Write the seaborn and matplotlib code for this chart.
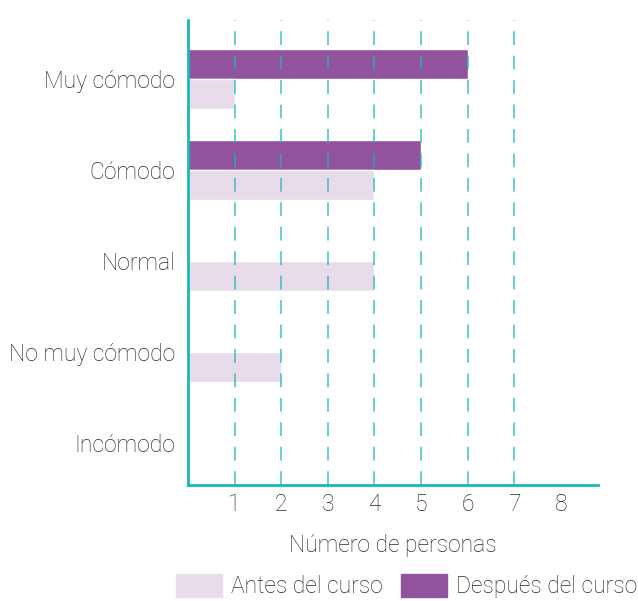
import matplotlib
matplotlib.use("Agg")
import matplotlib.pyplot as plt
import matplotlib.patches as mpatches
import seaborn as sns
import pandas as pd

categories = ["Muy cómodo", "Cómodo", "Normal", "No muy cómodo", "Incómodo"]
antes = [1, 4, 4, 2, 0]
despues = [6, 5, 0, 0, 0]
series_names = ["Antes del curso", "Después del curso"]
x_ticks = [1, 2, 3, 4, 5, 6, 7, 8]

teal = "#1BB8BA"
c_antes = "#E8DBEA"
c_despues = "#91539D"
txt = "#2a2a2a"

sns.set_theme(style="white")
plt.rcParams["font.family"] = ["Roboto", "DejaVu Sans"]
FS = 16.5

df = pd.DataFrame({
    "cat": categories * 2,
    "val": antes + despues,
    "serie": [series_names[0]] * len(categories) + [series_names[1]] * len(categories),
})

fig = plt.figure(figsize=(6.38, 6.01), dpi=100)
ax = fig.add_axes([188 / 638, 1 - 485 / 601, 410 / 638, 465 / 601])

sns.barplot(data=df, y="cat", x="val", hue="serie", order=categories,
            hue_order=[series_names[1], series_names[0]],
            palette={series_names[0]: c_antes, series_names[1]: c_despues},
            orient="h", width=0.66, ax=ax, legend=False, saturation=1)

for v in x_ticks[:-1]:
    ax.axvline(v, color=teal, lw=1.1, ls=(0, (9, 7)), zorder=5, alpha=0.85)

ax.set_xlim(0, 8.8)
ax.set_ylim(4.46, -0.648)
ax.set_xticks(x_ticks)
ax.set_xticklabels([str(t) for t in x_ticks], fontsize=FS, color=txt, fontweight="light")
ax.tick_params(axis="x", length=0, pad=6)
ax.tick_params(axis="y", length=0, pad=9)
for lab in ax.get_yticklabels():
    lab.set_fontsize(FS)
    lab.set_color(txt)
    lab.set_fontweight("light")
ax.set_ylabel("")
ax.set_xlabel("Número de personas", fontsize=FS, color=txt, labelpad=13, fontweight="light")

for s in ["top", "right"]:
    ax.spines[s].set_visible(False)
for s in ["left", "bottom"]:
    ax.spines[s].set_color(teal)
    ax.spines[s].set_linewidth(2)

handles = [mpatches.Patch(color=c_antes, label=series_names[0]),
           mpatches.Patch(color=c_despues, label=series_names[1])]
leg = fig.legend(handles=handles, loc="lower center", bbox_to_anchor=(0.638, -0.03), ncol=2,
                 frameon=False, fontsize=FS, handlelength=2.0, handleheight=1.2,
                 handletextpad=0.4, columnspacing=0.8)
for t in leg.get_texts():
    t.set_color(txt)
    t.set_fontweight("light")

fig.savefig("out.png", dpi=100)
